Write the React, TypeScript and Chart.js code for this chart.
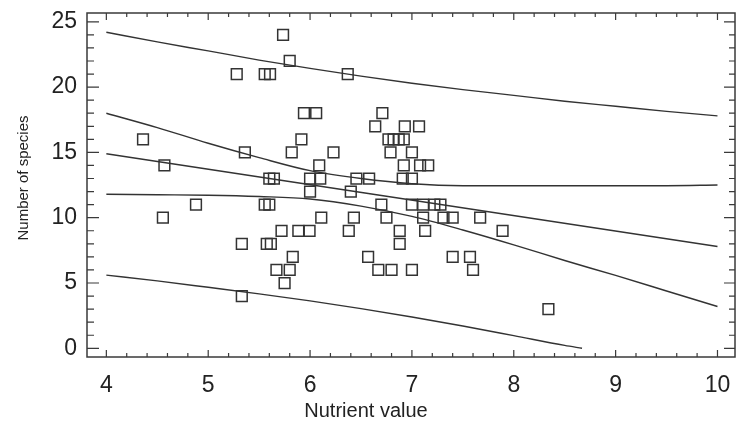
import React, { useEffect, useRef } from 'react';
import { Chart, registerables } from 'chart.js';

Chart.register(...registerables);

// Observed samples: nutrient value (x) and number of species (y)
const pointX = [
  5.735,
  5.80,
  5.28, 5.555, 5.607, 6.37,
  5.94, 6.06, 6.71,
  6.64, 6.93, 7.07,
  4.36, 5.915, 6.77, 6.82, 6.87, 6.92,
  5.36, 5.82, 6.23, 6.79, 7.0,
  4.57, 6.09, 6.92, 7.08, 7.16,
  5.60, 5.645, 6.0, 6.10, 6.455, 6.58, 6.91, 7.0,
  6.0, 6.40,
  4.88, 5.555, 5.60, 6.70, 7.0, 7.11, 7.22, 7.28,
  4.555, 6.11, 6.43, 6.75, 7.11, 7.31, 7.40, 7.67,
  5.72, 5.885, 5.995, 6.38, 6.88, 7.13, 7.89,
  5.33, 5.575, 5.615, 6.88,
  5.83, 6.57, 7.40, 7.57,
  5.67, 5.80, 6.67, 6.80, 7.0, 7.60,
  5.75,
  5.33,
  8.34,
];
const pointY = [
  24,
  22,
  21, 21, 21, 21,
  18, 18, 18,
  17, 17, 17,
  16, 16, 16, 16, 16, 16,
  15, 15, 15, 15, 15,
  14, 14, 14, 14, 14,
  13, 13, 13, 13, 13, 13, 13, 13,
  12, 12,
  11, 11, 11, 11, 11, 11, 11, 11,
  10, 10, 10, 10, 10, 10, 10, 10,
  9, 9, 9, 9, 9, 9, 9,
  8, 8, 8, 8,
  7, 7, 7, 7,
  6, 6, 6, 6, 6, 6,
  5,
  4,
  3,
];

// Regression line and bands
const fitX = [4, 10];
const fitY = [14.9, 7.8];
const bandX = [4, 4.5, 5, 5.5, 6, 6.5, 7, 7.5, 8, 8.5, 9, 9.5, 10];
const upperPrediction = [24.2, 23.46, 22.77, 22.07, 21.43, 20.84, 20.3, 19.81, 19.37, 18.92, 18.53, 18.14, 17.8];
const upperConfidence = [18.0, 16.9, 15.7, 14.6, 13.6, 13.0, 12.6, 12.45, 12.45, 12.45, 12.45, 12.45, 12.5];
const lowerConfidence = [11.8, 11.76, 11.72, 11.62, 11.43, 10.89, 10.1, 9.06, 7.92, 6.72, 5.58, 4.39, 3.2];
const lowerPredictionX = [4, 4.5, 5, 5.5, 6, 6.5, 7, 7.5, 8, 8.5, 8.67];
const lowerPrediction = [5.6, 5.16, 4.67, 4.17, 3.63, 3.04, 2.4, 1.71, 0.97, 0.22, 0];

const xTickLabels = [4, 5, 6, 7, 8, 9, 10];
const yTickLabels = [0, 5, 10, 15, 20, 25];

const xTitle = 'Nutrient value';
const yTitle = 'Number of species';

const FONT = 'Arial, "Liberation Sans", Helvetica, sans-serif';
const INK = '#333333';

const pairs = (xs: number[], ys: number[]) => xs.map((x, i) => ({ x, y: ys[i] }));

const lineDs = (data: { x: number; y: number }[]) => ({
  type: 'scatter' as const,
  data,
  showLine: true,
  borderColor: INK,
  borderWidth: 1.4,
  pointRadius: 0,
  pointHoverRadius: 0,
  fill: false,
  cubicInterpolationMode: 'monotone' as const,
});

const framePlugin = {
  id: 'framePlugin',
  afterDraw(chart: any) {
    const { ctx, chartArea, scales } = chart;
    const { left, right, top, bottom } = chartArea;
    const xs = scales.x;
    const ys = scales.y;
    ctx.save();
    ctx.strokeStyle = '#3a3a3a';
    ctx.lineWidth = 1.5;
    ctx.strokeRect(left, top, right - left, bottom - top);
    ctx.lineWidth = 1.2;
    ctx.beginPath();
    for (let i = 0; i <= 30; i++) {
      const v = xTickLabels[0] + i * 0.2;
      const px = xs.getPixelForValue(v);
      const len = i % 5 === 0 ? 7 : 4;
      ctx.moveTo(px, bottom);
      ctx.lineTo(px, bottom - len);
      ctx.moveTo(px, top);
      ctx.lineTo(px, top + len);
    }
    for (let v = 0; v <= 25; v++) {
      const py = ys.getPixelForValue(v);
      const major = v % 5 === 0;
      ctx.moveTo(left, py);
      ctx.lineTo(left + (major ? 12 : 7), py);
      ctx.moveTo(right, py);
      ctx.lineTo(right - (major ? 11 : 6), py);
    }
    ctx.stroke();

    ctx.fillStyle = '#222222';
    ctx.textAlign = 'center';
    ctx.textBaseline = 'middle';
    ctx.font = `20px ${FONT}`;
    ctx.fillText(xTitle, 366, 411);
    ctx.translate(24, 178);
    ctx.rotate(-Math.PI / 2);
    ctx.font = `15px ${FONT}`;
    ctx.fillText(yTitle, 0, 0);
    ctx.restore();
  },
};

export default function App() {
  const canvasRef = useRef<HTMLCanvasElement | null>(null);

  useEffect(() => {
    document.body.style.margin = '0';
    const canvas = canvasRef.current;
    if (!canvas) return;
    const chart = new Chart(canvas, {
      type: 'scatter',
      data: {
        datasets: [
          {
            type: 'scatter',
            data: pairs(pointX, pointY),
            pointStyle: 'rect',
            pointRadius: 7.6,
            pointHoverRadius: 7.6,
            borderColor: INK,
            borderWidth: 1.5,
            backgroundColor: 'rgba(0,0,0,0)',
          },
          lineDs(pairs(fitX, fitY)),
          lineDs(pairs(bandX, upperConfidence)),
          lineDs(pairs(bandX, lowerConfidence)),
          lineDs(pairs(bandX, upperPrediction)),
          lineDs(pairs(lowerPredictionX, lowerPrediction)),
        ] as any,
      },
      options: {
        animation: false,
        responsive: true,
        maintainAspectRatio: false,
        layout: { autoPadding: false, padding: { top: 13, right: 1, left: 0, bottom: 0 } },
        plugins: {
          legend: { display: false },
          tooltip: { enabled: false },
        },
        events: [],
        scales: {
          x: {
            type: 'linear',
            min: 3.81,
            max: 10.172,
            grid: { display: false, drawTicks: false },
            border: { display: false },
            afterBuildTicks: (scale: any) => {
              scale.ticks = xTickLabels.map((v) => ({ value: v }));
            },
            afterFit: (scale: any) => {
              scale.height = 73;
              scale.paddingLeft = 0;
              scale.paddingRight = 0;
            },
            ticks: {
              padding: 15,
              color: '#222222',
              font: { family: FONT, size: 23 },
              maxRotation: 0,
              autoSkip: false,
            },
          },
          y: {
            type: 'linear',
            min: -0.666,
            max: 25.674,
            grid: { display: false, drawTicks: false },
            border: { display: false },
            afterBuildTicks: (scale: any) => {
              scale.ticks = yTickLabels.map((v) => ({ value: v }));
            },
            afterFit: (scale: any) => {
              scale.width = 87;
              scale.paddingTop = 0;
              scale.paddingBottom = 0;
            },
            ticks: {
              padding: 10,
              color: '#222222',
              font: { family: FONT, size: 23 },
              autoSkip: false,
            },
          },
        },
      },
      plugins: [framePlugin],
    });
    return () => chart.destroy();
  }, []);

  return (
    <div style={{ position: 'absolute', left: 0, top: 0, width: 736, height: 430, background: '#ffffff' }}>
      <canvas ref={canvasRef} />
    </div>
  );
}
